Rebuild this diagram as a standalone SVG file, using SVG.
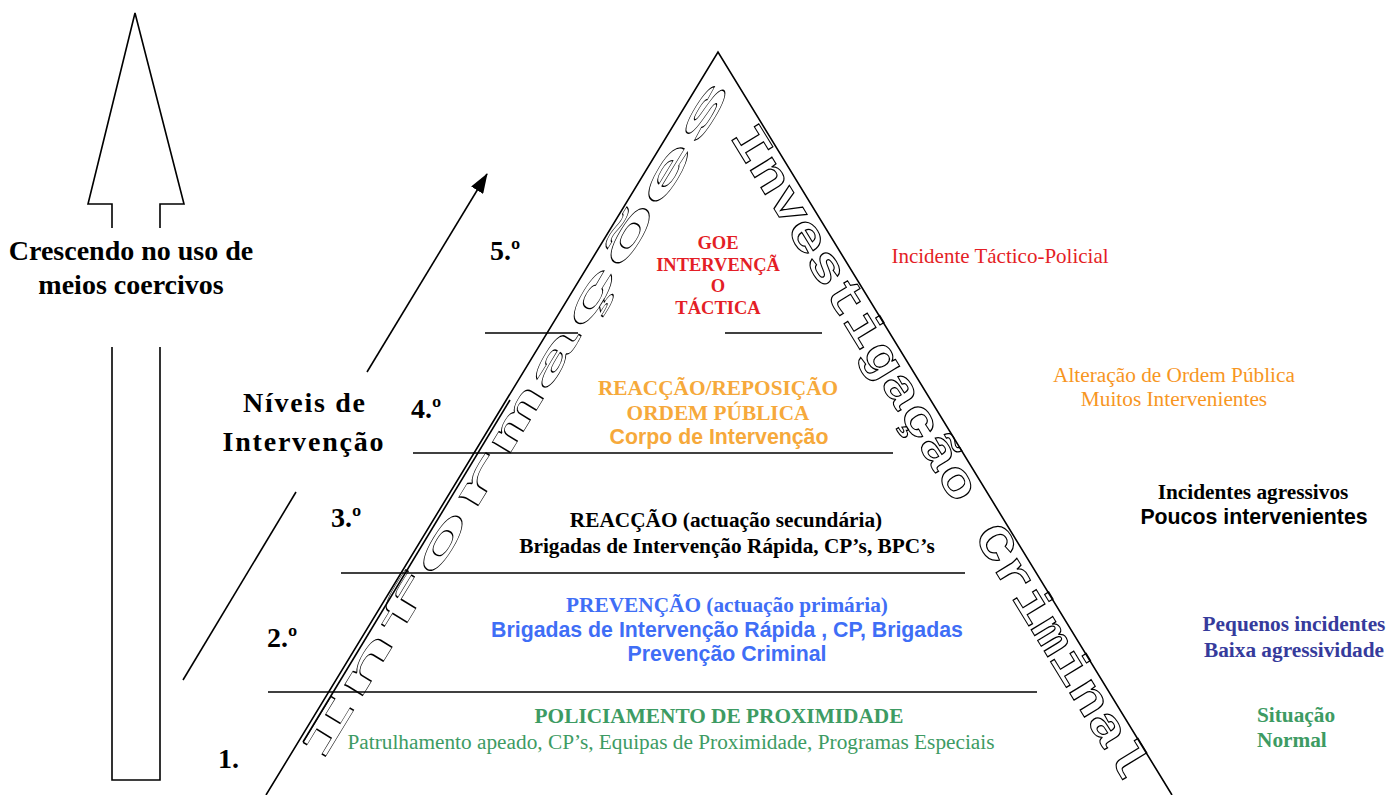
<svg xmlns="http://www.w3.org/2000/svg" width="1400" height="795" viewBox="0 0 1400 795">
<defs>
<style>
.tb{font-family:"Liberation Serif","Times New Roman",serif;font-weight:bold}
.tr{font-family:"Liberation Serif","Times New Roman",serif}
.ab{font-family:"Liberation Sans",Arial,sans-serif;font-weight:bold}
.wa{font-family:"Liberation Mono","Courier New",monospace;font-weight:bold;fill:none;stroke:#000;stroke-width:1.2;vector-effect:non-scaling-stroke}
.ln{stroke:#000;stroke-width:1.6;fill:none}
.c{text-anchor:middle}
.red{fill:#e41e26}
.org{fill:#f6a93b}
.org2{fill:#f7961f}
.blu{fill:#3f6ef6}
.dbl{fill:#363b9c}
.grn{fill:#3d9b63}
</style>
<marker id="ahb" viewBox="0 0 20 14" refX="19" refY="7" markerWidth="20" markerHeight="14" markerUnits="userSpaceOnUse" orient="auto">
<path d="M0,0 L20,7 L0,14 z" fill="#000"/>
</marker>
</defs>
<rect width="1400" height="795" fill="#fff"/>

<g id="arrow-coercivos">
<path class="ln" d="M112,228 V204 H88 L135,13 L184,204 H160 V228"/>
<path class="ln" d="M112,347 V780 H160 V347"/>
<text class="tb c" x="131" y="260" font-size="28">Crescendo no uso de</text>
<text class="tb c" x="131" y="294" font-size="28">meios coercivos</text>
</g>

<g id="niveis-label">
<text class="tb c" x="304" y="412" font-size="28" textLength="122" lengthAdjust="spacing">Níveis de</text>
<text class="tb c" x="303" y="451" font-size="28" textLength="161" lengthAdjust="spacing">Intervenção</text>
</g>

<g id="connectors">
<line class="ln" x1="183" y1="680" x2="296" y2="492"/>
<line class="ln" x1="367" y1="372" x2="487" y2="174" marker-end="url(#ahb)"/>
</g>

<g id="pyramid">
<path class="ln" d="M266,795 L718,52 L1172,795"/>
<line class="ln" x1="303" y1="742" x2="510" y2="400" stroke-width="1.2"/>
<line class="ln" x1="485" y1="333" x2="578" y2="333"/>
<line class="ln" x1="725" y1="333" x2="822" y2="333"/>
<line class="ln" x1="413" y1="453" x2="893" y2="453"/>
<line class="ln" x1="341" y1="573" x2="965" y2="573"/>
<line class="ln" x1="268" y1="692" x2="1037" y2="692"/>
<text class="wa" font-size="40" transform="translate(321.1,764.1) rotate(-58.69) scale(3,1)">Informações</text>
<text class="wa" font-size="48" transform="translate(729.6,136.4) rotate(58.58) scale(1.25,1)">Investigação Criminal</text>
</g>

<g id="level-5">
<text class="tb" x="490" y="260" font-size="28">5.º</text>
<text class="tb c red" x="718" y="249" font-size="18.5">GOE</text>
<text class="tb c red" x="718" y="271" font-size="18.5">INTERVENÇÃ</text>
<text class="tb c red" x="718" y="292" font-size="18.5">O</text>
<text class="tb c red" x="718" y="314" font-size="18.5">TÁCTICA</text>
<text class="tr c red" x="1000" y="263" font-size="21">Incidente Táctico-Policial</text>
</g>

<g id="level-4">
<text class="tb" x="411" y="418" font-size="28">4.º</text>
<text class="tb c org" x="718" y="395" font-size="21.3">REACÇÃO/REPOSIÇÃO</text>
<text class="tb c org" x="718" y="420" font-size="21.3">ORDEM PÚBLICA</text>
<text class="ab c org" x="719" y="444" font-size="21.3">Corpo de Intervenção</text>
<text class="tr c org2" x="1174" y="382" font-size="21.3">Alteração de Ordem Pública</text>
<text class="tr c org2" x="1174" y="406" font-size="21.3">Muitos Intervenientes</text>
</g>

<g id="level-3">
<text class="tb" x="331" y="527" font-size="28">3.º</text>
<text class="tb c" x="726" y="527" font-size="21.3">REACÇÃO (actuação secundária)</text>
<text class="tb c" x="727" y="553" font-size="21.3">Brigadas de  Intervenção Rápida, CP’s, BPC’s</text>
<text class="tb c" x="1253" y="499" font-size="21.3">Incidentes agressivos</text>
<text class="ab c" x="1254" y="524" font-size="21.3">Poucos intervenientes</text>
</g>

<g id="level-2">
<text class="tb" x="267" y="647" font-size="28">2.º</text>
<text class="tb c blu" x="727" y="612" font-size="21.3">PREVENÇÃO (actuação primária)</text>
<text class="ab c blu" x="727" y="637" font-size="21.3">Brigadas de Intervenção Rápida , CP, Brigadas</text>
<text class="ab c blu" x="727" y="661" font-size="21.3">Prevenção Criminal</text>
<text class="tb c dbl" x="1294" y="631" font-size="21.3">Pequenos incidentes</text>
<text class="tb c dbl" x="1294" y="657" font-size="21.3">Baixa agressividade</text>
</g>

<g id="level-1">
<text class="tb" x="218" y="768" font-size="28">1.</text>
<text class="tb c grn" x="719" y="723" font-size="21.3">POLICIAMENTO DE PROXIMIDADE</text>
<text class="tr c grn" x="671" y="749" font-size="21.3">Patrulhamento apeado, CP’s, Equipas de Proximidade, Programas Especiais</text>
<text class="tb grn" x="1257" y="722" font-size="21.3">Situação</text>
<text class="tb grn" x="1257" y="747" font-size="21.3">Normal</text>
</g>
</svg>
